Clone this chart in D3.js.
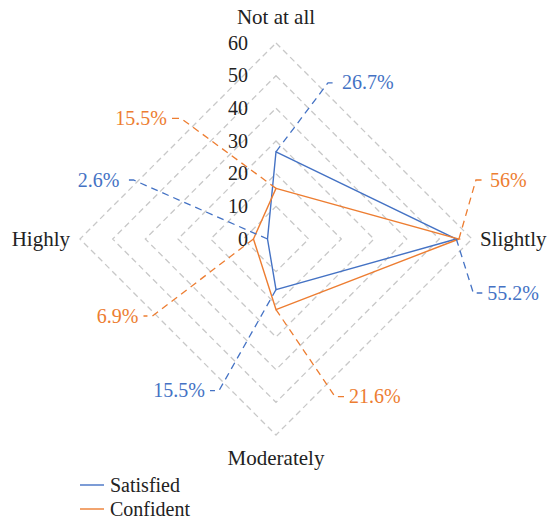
<!DOCTYPE html>
<html><head><meta charset="utf-8">
<script src="https://cdn.jsdelivr.net/npm/d3@7"></script>
<style>body{margin:0;background:#fff}svg{display:block}</style>
</head><body><svg id="c" width="553" height="521" font-family="Liberation Serif, Times New Roman, serif"></svg>
<script>
const categories = ["Not at all", "Slightly", "Moderately", "Highly"];
const satisfied = [26.7, 55.2, 15.5, 2.6];
const confident = [15.5, 56, 21.6, 6.9];
const seriesNames = ["Satisfied", "Confident"];
const tickValues = [0, 10, 20, 30, 40, 50, 60];
const colors = ["#4472C4", "#ED7D31"];
// label leader offsets (layout only), per series per category
const leaderOffsets = [
  [[52,-69],[17,54],[-57,101],[-134,-59]],
  [[-95,-70],[17,-59],[59,87],[-101,77]]
];
const FONT = "'Liberation Serif', 'Times New Roman', serif";

const svg = d3.select("#c");
const cx = 276, cy = 239, R = 196;
const r = d3.scaleLinear().domain([0, 60]).range([0, R]);
const ang = d3.scalePoint().domain(categories).range([0, 2*Math.PI*3/4]);
const pt = (c, v) => { const a = ang(c) - Math.PI/2; return [cx + r(v)*Math.cos(a), cy + r(v)*Math.sin(a)]; };

// grid
tickValues.filter(t => t > 0).forEach(t => {
  svg.append("path")
    .attr("d", d3.line()(categories.map(c => pt(c, t))) + "Z")
    .attr("fill", "none").attr("stroke", "#c8c8c8").attr("stroke-width", 1.3)
    .attr("stroke-dasharray", "6,4");
});
// tick labels
tickValues.forEach(t => {
  svg.append("text").attr("x", 248).attr("y", pt(categories[0], t)[1] + 6.5)
    .attr("text-anchor", "end").attr("font-family", FONT).attr("font-size", 20).attr("fill", "#222").text(t);
});
// category labels
const catPos = [[276, 24, "middle"], [480, 246, "start"], [276, 465, "middle"], [70, 246, "end"]];
categories.forEach((c, i) => {
  svg.append("text").attr("x", catPos[i][0]).attr("y", catPos[i][1]).attr("text-anchor", catPos[i][2])
    .attr("font-family", FONT).attr("font-size", 21).attr("fill", "#222").text(c);
});
// series
[satisfied, confident].forEach((vals, s) => {
  svg.append("path")
    .attr("d", d3.line()(categories.map((c, i) => pt(c, vals[i]))) + "Z")
    .attr("fill", "none").attr("stroke", colors[s]).attr("stroke-width", 1.4);
});
// leader lines & labels
[satisfied, confident].forEach((vals, s) => {
  categories.forEach((c, i) => {
    const p = pt(c, vals[i]);
    const [dx, dy] = leaderOffsets[s][i];
    const e = [p[0] + dx, p[1] + dy];
    const dir = dx > 0 ? 1 : -1;
    const h = [e[0] + dir*9, e[1]];
    svg.append("path").attr("d", d3.line()([p, e, h]))
      .attr("fill", "none").attr("stroke", colors[s]).attr("stroke-width", 1.3)
      .attr("stroke-dasharray", "7,5");
    svg.append("text").attr("x", h[0] + dir*5).attr("y", h[1] + 6.5)
      .attr("text-anchor", dir > 0 ? "start" : "end").attr("font-family", FONT).attr("font-size", 20)
      .attr("fill", colors[s]).text(vals[i] + "%");
  });
});
// legend
seriesNames.forEach((n, s) => {
  const y = 485 + s*24;
  svg.append("line").attr("x1", 80).attr("x2", 104).attr("y1", y).attr("y2", y)
    .attr("stroke", colors[s]).attr("stroke-width", 1.4);
  svg.append("text").attr("x", 110).attr("y", y + 6.5).attr("font-family", FONT).attr("font-size", 20)
    .attr("fill", "#222").text(n);
});
</script></body></html>
